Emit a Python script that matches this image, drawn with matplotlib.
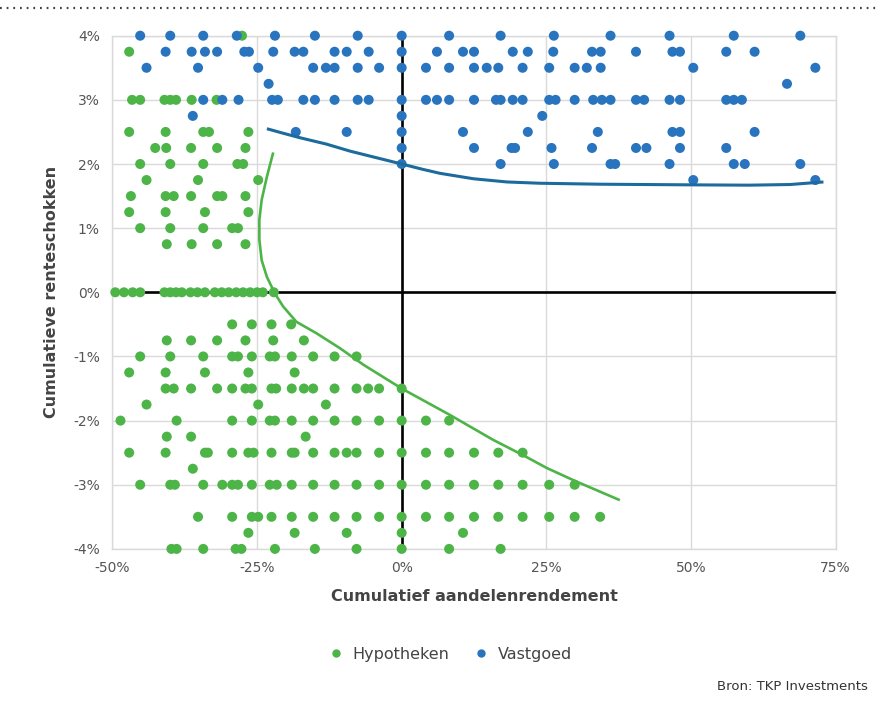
import matplotlib
matplotlib.use("Agg")
import matplotlib.pyplot as plt
from matplotlib.lines import Line2D

# ---------------- data (values in %) ----------------
# Hypotheken (green) points, written row by row (y level per row)
hyp_x = [
    -27.6,                                                            # 4.0
    -47.1,                                                            # 3.75
    -46.6, -45.2, -41.0, -40.0, -39.0, -36.3, -32.0,                  # 3.0
    -47.1, -40.8, -34.3, -33.3, -26.5,                                # 2.5
    -42.6, -40.7, -36.4, -31.9, -27.0,                                # 2.25
    -45.2, -40.0, -34.3, -28.4, -27.4,                                # 2.0
    -44.1, -35.2, -24.8,                                              # 1.75
    -46.8, -40.8, -39.4, -36.4, -31.9, -31.0, -27.0,                  # 1.5
    -47.1, -40.8, -34.0, -26.5,                                       # 1.25
    -45.2, -40.0, -34.3, -29.3, -28.3,                                # 1.0
    -40.6, -36.3, -31.9, -27.0,                                       # 0.75
    -49.5, -48.0, -46.5, -45.2, -41.0, -40.0, -39.0, -38.0, -36.5,
    -35.3, -34.0, -32.3, -31.1, -29.9, -28.6, -27.4, -26.2, -25.0,
    -24.0, -22.1,                                                     # 0
    -29.3, -25.9, -22.5, -19.1,                                       # -0.5
    -40.6, -36.4, -31.9, -27.0, -22.2, -16.9,                         # -0.75
    -45.2, -40.0, -34.3, -29.3, -28.3, -25.9, -22.8, -21.9, -19.0,
    -15.3, -11.6, -7.8,                                               # -1.0
    -47.1, -40.8, -34.0, -26.5, -18.5,                                # -1.25
    -40.8, -39.4, -36.4, -31.9, -29.3, -27.0, -25.9, -22.5, -21.7,
    -19.0, -16.9, -15.3, -11.6, -7.8, -5.8, -3.9, 0.0,                # -1.5
    -44.1, -24.8, -13.1,                                              # -1.75
    -48.6, -38.9, -29.3, -25.9, -22.8, -21.9, -19.0, -15.3, -11.6,
    -7.8, -3.9, 0.0, 4.2, 8.2,                                        # -2.0
    -40.6, -36.4, -16.6,                                              # -2.25
    -47.1, -40.8, -34.0, -33.5, -29.3, -26.5, -25.6, -22.5, -19.0,
    -18.5, -15.3, -11.6, -9.5, -7.8, -3.9, 0.0, 4.2, 8.2, 12.5,
    16.7, 20.9,                                                       # -2.5
    -36.1,                                                            # -2.75
    -45.2, -40.0, -39.2, -34.3, -31.0, -29.3, -28.3, -25.9, -22.8,
    -21.6, -19.0, -15.3, -11.6, -7.8, -3.9, 0.0, 4.2, 8.2, 12.5,
    16.7, 20.9, 25.5, 29.9,                                           # -3.0
    -35.2, -29.3, -25.9, -24.8, -22.5, -19.0, -15.3, -11.6, -7.8,
    -3.9, 0.0, 4.2, 8.2, 12.5, 16.7, 20.9, 25.5, 29.9, 34.3,          # -3.5
    -26.5, -18.5, -9.5, 0.0, 10.6,                                    # -3.75
    -39.8, -38.9, -34.3, -28.7, -27.7, -21.9, -15.0, -7.8, 0.0,
    8.2, 17.1,                                                        # -4.0
]
hyp_y = (
    [4.0] * 1 + [3.75] * 1 + [3.0] * 7 + [2.5] * 5 + [2.25] * 5 + [2.0] * 5
    + [1.75] * 3 + [1.5] * 7 + [1.25] * 4 + [1.0] * 5 + [0.75] * 4 + [0.0] * 20
    + [-0.5] * 4 + [-0.75] * 6 + [-1.0] * 12 + [-1.25] * 5 + [-1.5] * 17
    + [-1.75] * 3 + [-2.0] * 14 + [-2.25] * 3 + [-2.5] * 21 + [-2.75] * 1
    + [-3.0] * 23 + [-3.5] * 19 + [-3.75] * 5 + [-4.0] * 11
)

# Vastgoed (blue) points, row by row
vast_x = [
    -45.2, -40.0, -34.3, -28.5, -21.9, -15.0, -7.6, 0.0, 8.2, 17.1,
    26.3, 36.1, 46.3, 57.4, 68.9,                                     # 4.0
    -40.8, -36.3, -34.0, -31.9, -27.2, -26.4, -22.2, -18.5, -17.0,
    -11.6, -9.5, -5.7, 0.0, 6.1, 10.6, 12.5, 19.2, 21.8, 26.2, 32.9,
    34.4, 40.5, 46.8, 48.1, 56.1, 61.0,                               # 3.75
    -44.1, -35.2, -24.8, -15.3, -13.1, -11.6, -7.6, -3.9, 0.0, 4.2,
    8.2, 12.5, 14.7, 16.7, 20.9, 25.5, 29.9, 32.0, 34.4, 50.4, 71.5,  # 3.5
    -23.0, 66.6,                                                      # 3.25
    -34.3, -31.0, -28.2, -22.4, -21.4, -17.0, -15.0, -11.6, -7.6,
    -5.7, 0.0, 4.2, 6.1, 8.2, 12.5, 16.3, 17.1, 19.2, 20.9, 25.5,
    26.6, 29.9, 33.1, 34.6, 36.1, 40.5, 41.9, 46.3, 48.1, 56.1, 57.4,
    58.8,                                                             # 3.0
    -36.1, 0.0, 24.3,                                                 # 2.75
    -18.3, -9.5, 0.0, 10.6, 21.8, 33.9, 46.8, 48.1, 61.0,             # 2.5
    0.0, 12.5, 19.0, 19.6, 25.9, 32.9, 40.5, 42.3, 48.1, 56.1,        # 2.25
    0.0, 17.1, 26.3, 36.1, 36.9, 46.3, 57.4, 59.3, 68.9,              # 2.0
    50.4, 71.5,                                                       # 1.75
]
vast_y = (
    [4.0] * 15 + [3.75] * 26 + [3.5] * 21 + [3.25] * 2 + [3.0] * 32
    + [2.75] * 3 + [2.5] * 9 + [2.25] * 10 + [2.0] * 9 + [1.75] * 2
)

# trend lines
vast_curve_x = [-23.3, -20.5, -17.6, -13.0, -8.9, -4.9, 0.0, 3.5, 6.6, 12.4, 18.2, 23.9, 34.3, 49.9, 60.0, 67.1, 72.9]
vast_curve_y = [2.55, 2.48, 2.41, 2.31, 2.20, 2.11, 2.00, 1.92, 1.855, 1.77, 1.72, 1.70, 1.685, 1.675, 1.67, 1.68, 1.72]

hyp_curve_x = [-22.2, -23.3, -24.2, -24.6, -24.6, -24.2, -23.3, -21.9, -20.5, -18.2, -14.7,
               -10.7, -6.6, 0.0, 8.3, 15.8, 21.0, 25.1, 30.2, 37.7]
hyp_curve_y = [2.18, 1.80, 1.44, 1.13, 0.82, 0.50, 0.24, -0.02, -0.22, -0.46, -0.64,
               -0.87, -1.13, -1.50, -1.91, -2.30, -2.54, -2.74, -2.95, -3.24]

x_ticks = [-50, -25, 0, 25, 50, 75]
y_ticks = [-4, -3, -2, -1, 0, 1, 2, 3, 4]
series_names = ["Hypotheken", "Vastgoed"]

GREEN = "#4DB447"
BLUE = "#2874BE"
BLUE_LINE = "#1C6B9C"

# ---------------- figure ----------------
fig = plt.figure(figsize=(8.79, 7.08), dpi=100)
ax = fig.add_axes([112.4 / 879, 1 - 548.9 / 708, (835.6 - 112.4) / 879, (548.9 - 35.7) / 708])

ax.set_xlim(-50, 75)
ax.set_ylim(-4, 4)
ax.set_xticks(x_ticks)
ax.set_yticks(y_ticks)
ax.set_xticklabels([f"{v}%" for v in x_ticks])
ax.set_yticklabels([f"{v}%" for v in y_ticks])
ax.tick_params(length=0, labelsize=10, labelcolor="#555555", pad=9)
ax.grid(True, color="#DADADA", linewidth=1.0, zorder=0)
ax.set_axisbelow(True)
for s in ax.spines.values():
    s.set_color("#DADADA")
    s.set_linewidth(1.0)

ax.axhline(0, color="black", linewidth=1.9, zorder=1)
ax.axvline(0, color="black", linewidth=1.9, zorder=1)

ax.scatter(hyp_x, hyp_y, s=52, color=GREEN, edgecolors="none", zorder=3, clip_on=False)
ax.scatter(vast_x, vast_y, s=52, color=BLUE, edgecolors="none", zorder=3, clip_on=False)

ax.plot(hyp_curve_x, hyp_curve_y, color=GREEN, linewidth=1.9, zorder=4,
        solid_capstyle="butt", solid_joinstyle="round")
ax.plot(vast_curve_x, vast_curve_y, color=BLUE_LINE, linewidth=2.2, zorder=4,
        solid_capstyle="butt", solid_joinstyle="round")

ax.set_xlabel("Cumulatief aandelenrendement", fontsize=11.5, fontweight="bold", color="#444444", labelpad=10)
ax.set_ylabel("Cumulatieve renteschokken", fontsize=11.5, fontweight="bold", color="#444444", labelpad=10)

# legend
handles = [
    Line2D([], [], marker="o", linestyle="none", markersize=5, color=GREEN),
    Line2D([], [], marker="o", linestyle="none", markersize=5, color=BLUE),
]
fig.legend(handles, series_names, loc="center", bbox_to_anchor=(446 / 879, 1 - 654 / 708),
           ncol=2, frameon=False, handletextpad=0.05, columnspacing=1.0,
           prop={"family": ["Liberation Sans Narrow", "DejaVu Sans"], "size": 11.5},
           labelcolor="#444444")

fig.text(868 / 879, 1 - 687 / 708, "Bron: TKP Investments", ha="right", va="center",
         fontsize=9.5, color="#333333", family=["Liberation Sans Narrow", "DejaVu Sans"])

# dotted rule at top
fig.add_artist(Line2D([0.0, 1.0], [1 - 8 / 708, 1 - 8 / 708], transform=fig.transFigure,
                      color="#444444", linewidth=1.6, linestyle=(0, (0.8, 2.2))))

fig.savefig("out.png", dpi=100)
